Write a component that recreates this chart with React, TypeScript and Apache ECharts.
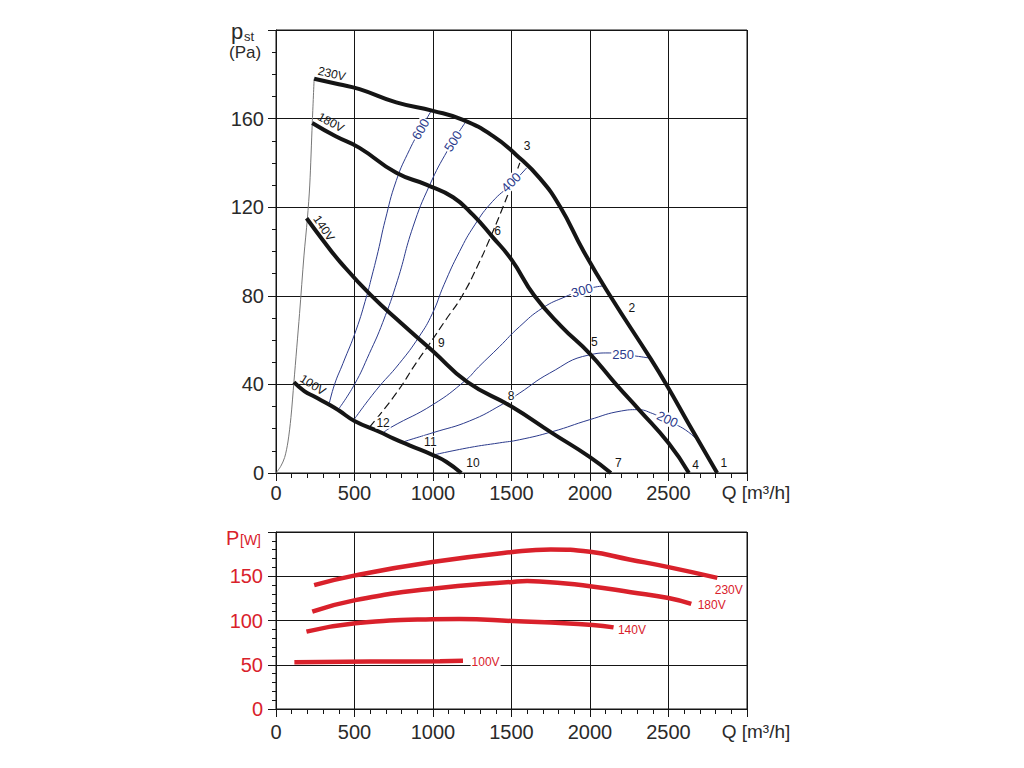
import React, { useEffect, useRef } from 'react';
import * as echarts from 'echarts';

// ---------- data ----------
const xTicks = [0, 500, 1000, 1500, 2000, 2500, 3000];
const pressureTicks = [0, 40, 80, 120, 160, 200];
const powerTicks = [0, 50, 100, 150, 200];

// fan curves: static pressure p_st (Pa) vs airflow Q (m3/h)
const fan230: [number, number][] = [[243, 178], [400, 175.5], [532, 173.3], [766, 167.3], [1000, 163.5], [1191, 159.4], [1383, 152.1], [1532, 143.5], [1681, 133], [1809, 120.3], [1960, 100], [2128, 80], [2387, 51.5], [2490, 39.5], [2630, 22], [2810, 0]];
const fan180: [number, number][] = [[231, 158], [380, 152], [532, 146.8], [766, 135.5], [957, 130.2], [1128, 124.5], [1255, 116.5], [1380, 106.5], [1500, 96.3], [1646, 80], [1820, 66], [1995, 54.1], [2166, 40], [2313, 28.5], [2500, 13.5], [2630, 0]];
const fan140: [number, number][] = [[195, 115], [300, 105], [412, 95], [601, 80.5], [800, 67.5], [1000, 55], [1220, 41], [1500, 30], [1762, 17.9], [1995, 7.4], [2133, 0]];
const fan100: [number, number][] = [[114, 41], [180, 37], [244, 34.5], [343, 30.7], [401, 28.2], [500, 23.5], [661, 18.5], [750, 15.5], [850, 12.5], [1000, 8.1], [1084, 5.1], [1180, 0]];
const systemCurve: [number, number][] = [[0, 0], [30, 3], [55, 7], [76, 14], [95, 25], [114, 41], [150, 72], [178, 98], [200, 115], [215, 130], [231, 158], [243, 178]];

// iso lines (blue)
const iso600: [number, number][] = [[338, 31], [373, 40], [426, 49.4], [510, 64.5], [578, 80], [605, 87.3], [650, 100], [695, 114], [766, 132], [851, 146], [921, 155.2], [989, 163.5]];
const iso500: [number, number][] = [[395, 28.5], [500, 40], [595, 54], [680, 68], [774, 87], [872, 111], [979, 130], [1096, 146], [1213, 159]];
const iso400: [number, number][] = [[500, 24.4], [637, 37.3], [785, 49.4], [911, 61.5], [996, 72], [1070, 85], [1169, 100], [1266, 112], [1378, 122.5], [1500, 130.5], [1596, 137.7]];
const iso300: [number, number][] = [[680, 18], [732, 20.6], [1000, 30.9], [1207, 41.8], [1291, 47.9], [1423, 57], [1550, 66], [1698, 74.5], [1847, 79.7], [1949, 82.4], [2037, 84], [2101, 84.5]];
const iso250: [number, number][] = [[800, 13.8], [853, 15], [1000, 18.2], [1233, 23.5], [1441, 31], [1550, 36], [1741, 45], [1995, 53.3], [2122, 54.2], [2291, 52.8], [2387, 51.8]];
const iso200: [number, number][] = [[1000, 8.1], [1233, 11.5], [1423, 13.6], [1550, 15], [1762, 18.7], [1995, 24], [2200, 28], [2300, 28.6], [2400, 26.8], [2493, 23.5], [2609, 19.4], [2705, 13.4]];
const bestPoints: [number, number][] = [[595, 20.6], [764, 35.8], [890, 49.4], [975, 58], [1080, 69], [1186, 80], [1294, 95], [1357, 105], [1447, 120.3], [1553, 140]];

// power curves P (W) vs Q
const power230: [number, number][] = [[243, 140], [505, 151], [996, 166], [1507, 177.4], [1750, 180.3], [2000, 177.6], [2250, 169], [2500, 160.3], [2811, 148.2]];
const power180: [number, number][] = [[231, 110], [505, 123], [996, 136], [1507, 143.6], [1600, 144.5], [1677, 144.2], [2000, 138.7], [2260, 132], [2500, 125.4], [2645, 118.8]];
const power140: [number, number][] = [[194, 87.4], [505, 96.8], [996, 101.3], [1166, 101.6], [1507, 99.4], [2017, 94.9], [2150, 92.2]];
const power100: [number, number][] = [[117, 52.9], [600, 53.6], [1045, 54], [1191, 54.4]];

// annotations: [Q, value, text, rotation in degrees]
const voltageNotes: [number, number, string, number][] = [[356, 180.3, '230V', -13], [350, 158.3, '180V', -28], [305, 110.5, '140V', -56], [235, 39.8, '100V', -32]];
const pointNotes: [number, number, string, number][] = [[2853, 4.4, '1', 0], [2266, 74.4, '2', 0], [1600, 147.6, '3', 0], [2673, 3.8, '4', 0], [2027, 59.3, '5', 0], [1412, 109.1, '6', 0], [2181, 4.4, '7', 0], [1497, 34.8, '8', 0], [1053, 58.6, '9', 0], [1254, 4.4, '10', 0], [983, 14.1, '11', 0], [682, 22.7, '12', 0]];
const isoNotes: [number, number, string, number][] = [[921, 155.2, '600', 60], [1128, 149.8, '500', 57], [1497, 131.2, '400', 45], [1949, 82.4, '300', 16], [2211, 53.3, '250', 0], [2493, 24.3, '200', -25]];
const powerNotes: [number, number, string, number][] = [[2884, 134.3, '230V', 0], [2775, 117.4, '180V', 0], [2267, 89.6, '140V', 0], [1335, 53.4, '100V', 0]];
const maskedPoints = ['8', '11', '12'];

// ---------- styling ----------
const FONT = "'Liberation Sans', Arial, Helvetica, sans-serif";
const BLACK = '#151515';
const BLUE = '#2c3b8c';
const RED = '#d9212b';
const GREY_TEXT = '#2a2a2a';

function line(data: [number, number][], color: string, width: number, idx: number, type: any = 'solid', smooth = 0.5) {
  return {
    type: 'line', xAxisIndex: idx, yAxisIndex: idx, data, showSymbol: false, symbol: 'none',
    smooth, silent: true, z: 2, lineStyle: { color, width, type, cap: 'butt' },
  };
}

function xAxis(idx: number, margin: number) {
  return {
    type: 'value', gridIndex: idx, min: 0, max: 3000, interval: 500,
    axisLine: { show: true, lineStyle: { color: BLACK, width: 1 } },
    axisTick: { show: true, length: 8, lineStyle: { color: BLACK } },
    minorTick: { show: true, splitNumber: 5, length: 5, lineStyle: { color: BLACK } },
    splitLine: { show: true, lineStyle: { color: BLACK, width: 1 } },
    axisLabel: {
      show: true, showMaxLabel: true, showMinLabel: true, margin, fontSize: 20, fontFamily: FONT, color: GREY_TEXT,
      formatter: (v: number) => (v === xTicks[xTicks.length - 1] ? '{q|Q [m³/h]}' : String(v)),
      rich: { q: { fontSize: 19, fontFamily: FONT, color: GREY_TEXT, padding: [0, 0, 0, 18] } },
    },
  };
}

function yAxis(idx: number, ticks: number[], split: number, color: string, margin: number) {
  const top = ticks[ticks.length - 1];
  return {
    type: 'value', gridIndex: idx, min: 0, max: top, interval: ticks[1] - ticks[0],
    axisLine: { show: true, lineStyle: { color: BLACK, width: 1 } },
    axisTick: { show: true, length: 8, lineStyle: { color: BLACK } },
    minorTick: { show: true, splitNumber: split, length: 4, lineStyle: { color: BLACK } },
    splitLine: { show: true, lineStyle: { color: BLACK, width: 1 } },
    axisLabel: {
      show: true, margin, fontSize: 20, fontFamily: FONT, color,
      formatter: (v: number) => (v === top ? '' : String(v)),
    },
  };
}

export default function App() {
  const ref = useRef<HTMLDivElement>(null);
  useEffect(() => {
    if (!ref.current) return;
    const chart = echarts.init(ref.current, null, { renderer: 'svg' });
    const option: any = {
      animation: false,
      backgroundColor: '#ffffff',
      textStyle: { fontFamily: FONT },
      grid: [
        { left: 276, right: 277, top: 30, height: 443, show: true, borderColor: BLACK, borderWidth: 1, backgroundColor: 'transparent' },
        { left: 276, right: 277, top: 532, height: 177, show: true, borderColor: BLACK, borderWidth: 1, backgroundColor: 'transparent' },
      ],
      xAxis: [xAxis(0, 10), xAxis(1, 13)],
      yAxis: [yAxis(0, pressureTicks, 4, GREY_TEXT, 12), yAxis(1, powerTicks, 5, RED, 13)],
      series: [
        line(systemCurve, '#777777', 1, 0, 'solid', 0.3),
        line(iso600, BLUE, 1, 0),
        line(iso500, BLUE, 1, 0),
        line(iso400, BLUE, 1, 0),
        line(iso300, BLUE, 1, 0),
        line(iso250, BLUE, 1, 0),
        line(iso200, BLUE, 1, 0),
        line(bestPoints, BLACK, 1.2, 0, [8, 4]),
        line(fan230, BLACK, 4, 0),
        line(fan180, BLACK, 4, 0),
        line(fan140, BLACK, 4, 0),
        line(fan100, BLACK, 4, 0),
        line(power230, RED, 4.5, 1),
        line(power180, RED, 4.5, 1),
        line(power140, RED, 4.5, 1),
        line(power100, RED, 4.5, 1),
      ],
    };
    chart.setOption(option);

    const toText = (gridIdx: number, notes: [number, number, string, number][], color: string, size: number, mask: (t: string) => boolean) =>
      notes.map((n) => {
        const p = chart.convertToPixel({ xAxisIndex: gridIdx, yAxisIndex: gridIdx }, [n[0], n[1]]) as number[];
        const bg = mask(n[2]);
        return {
          type: 'text', x: p[0], y: p[1], rotation: (n[3] * Math.PI) / 180, z: 10, silent: true,
          style: {
            text: n[2], fill: color, fontSize: size, fontFamily: FONT, align: 'center', verticalAlign: 'middle',
            backgroundColor: bg ? '#ffffff' : undefined, padding: bg ? [0, 1] : undefined,
          },
        };
      });

    const graphic: any[] = [
      ...toText(0, voltageNotes, BLACK, 12, () => false),
      ...toText(0, pointNotes, BLACK, 12, (t) => maskedPoints.includes(t)),
      ...toText(0, isoNotes, BLUE, 13, () => true),
      ...toText(1, powerNotes, RED, 12, () => true),
      { type: 'text', x: 231, y: 31, style: { text: 'p', fontSize: 22, fontFamily: FONT, fill: GREY_TEXT, verticalAlign: 'middle' } },
      { type: 'text', x: 244, y: 36, style: { text: 'st', fontSize: 13, fontFamily: FONT, fill: GREY_TEXT, verticalAlign: 'middle' } },
      { type: 'text', x: 229, y: 52, style: { text: '(Pa)', fontSize: 17, fontFamily: FONT, fill: GREY_TEXT, verticalAlign: 'middle' } },
      { type: 'text', x: 226, y: 538, style: { text: 'P', fontSize: 20, fontFamily: FONT, fill: RED, verticalAlign: 'middle' } },
      { type: 'text', x: 240, y: 540, style: { text: '[W]', fontSize: 14, fontFamily: FONT, fill: RED, verticalAlign: 'middle' } },
    ];
    chart.setOption({ graphic });
    return () => chart.dispose();
  }, []);
  return <div ref={ref} style={{ position: 'absolute', left: 0, top: 0, width: 1024, height: 768 }} />;
}
